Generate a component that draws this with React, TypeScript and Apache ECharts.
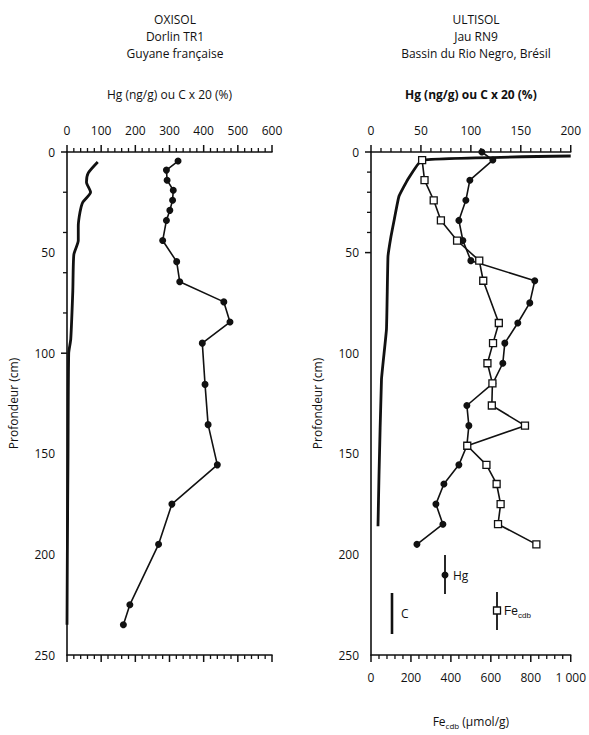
import React, { useEffect, useRef } from "react";
import * as echarts from "echarts";

// Left panel (OXISOL, Dorlin TR1)
const leftHgDepth = [4.5, 9, 14, 19, 24, 29, 34, 44, 54.5, 64.5, 74.5, 84.5, 95, 115.5, 135.5, 155.5, 175, 195, 225, 235];
const leftHg = [325, 291, 293, 311, 309, 301, 291, 280, 321, 330, 459, 477, 396, 404, 413, 440, 307, 268, 184, 165];
const leftCDepth = [5, 10.5, 15, 20, 25, 30, 37, 44, 51, 69, 93, 100, 150, 200, 235];
const leftC = [90, 62, 57, 69, 46, 38, 33, 33, 20, 17, 11, 5, 3, 1, 0];

// Right panel (ULTISOL, Jau RN9)
const rightHgDepth = [0, 4, 14, 24, 34, 44, 54, 64, 75, 85, 95, 105, 115, 126, 136, 146, 155.5, 165, 175, 185, 195];
const rightHg = [111, 122, 99, 95, 88, 92, 100, 164, 159, 147, 134, 132, 122, 96, 98, 96, 88, 73, 65, 72, 46];
const rightCDepth = [2, 4, 13.5, 22, 33, 42, 52, 88, 113, 161, 186];
const rightC = [200, 51, 37, 28, 23.5, 20, 17, 15.5, 10.5, 8, 7];
const rightFeDepth = [4, 14, 24, 34, 44, 54, 64, 85, 95, 105, 115, 126, 136, 146, 155.5, 165, 175, 185, 195];
const rightFe = [256, 268, 314, 350, 431, 542, 562, 640, 611, 583, 608, 605, 771, 482, 578, 629, 649, 636, 828];

const topTicksLeft = [0, 100, 200, 300, 400, 500, 600];
const topTicksRight = [0, 50, 100, 150, 200];
const bottomTicksRight = [0, 200, 400, 600, 800, 1000];
const depthTicks = [0, 50, 100, 150, 200, 250];
const MINOR_SPLIT = 5;

const pairs = (xs: number[], ys: number[]) => xs.map((x, i) => [x, ys[i]]);

const FONT = "Open Sans";
const INK = "#111";

// major + minor tick values from a list of major ticks
function tickValues(majors: number[]): { v: number; major: boolean }[] {
  const out: { v: number; major: boolean }[] = [];
  const step = (majors[1] - majors[0]) / MINOR_SPLIT;
  for (let i = 0; i < majors.length; i++) {
    out.push({ v: majors[i], major: true });
    if (i < majors.length - 1) {
      for (let k = 1; k < MINOR_SPLIT; k++) out.push({ v: majors[i] + k * step, major: false });
    }
  }
  return out;
}

function xAxisBase(gridIndex: number, position: string, ticks: number[], showLabel: boolean): any {
  return {
    type: "value",
    gridIndex,
    position,
    min: ticks[0],
    max: ticks[ticks.length - 1],
    interval: ticks[1] - ticks[0],
    axisLine: { show: true, onZero: false, lineStyle: { color: INK, width: 1.6 } },
    axisTick: { show: false },
    minorTick: { show: false },
    splitLine: { show: false },
    axisLabel: {
      show: showLabel,
      margin: 16,
      color: INK,
      fontFamily: FONT,
      fontSize: 12,
      formatter: (v: number) => (v === 1000 ? "1 000" : String(v)),
    },
  };
}

function yAxisBase(gridIndex: number): any {
  return {
    type: "value",
    gridIndex,
    inverse: true,
    min: depthTicks[0],
    max: depthTicks[depthTicks.length - 1],
    interval: depthTicks[1] - depthTicks[0],
    name: "Profondeur (cm)",
    nameLocation: "middle",
    nameRotate: 90,
    nameGap: 48,
    nameTextStyle: { color: INK, fontFamily: FONT, fontSize: 12 },
    axisLine: { show: true, onZero: false, lineStyle: { color: INK, width: 1.6 } },
    axisTick: { show: false },
    minorTick: { show: false },
    splitLine: { show: false },
    axisLabel: { margin: 12, color: INK, fontFamily: FONT, fontSize: 12 },
  };
}

// custom series drawing tick marks through the axes' own scales
function tickSeries(xAxisIndex: number, yAxisIndex: number, sides: { side: string; majors: number[] }[]): any {
  return {
    type: "custom",
    xAxisIndex,
    yAxisIndex,
    silent: true,
    clip: false,
    data: [[0, 0]],
    z: 5,
    renderItem: (_p: any, api: any) => {
      const children: any[] = [];
      const yMin = depthTicks[0];
      const yMax = depthTicks[depthTicks.length - 1];
      sides.forEach((s) => {
        const xMin = s.majors[0];
        tickValues(s.majors).forEach(({ v, major }) => {
          const len = major ? 7 : 4;
          const w = major ? 1.5 : 1.3;
          let shape: any;
          if (s.side === "top") {
            const p = api.coord([v, yMin]);
            shape = { x1: p[0], y1: p[1], x2: p[0], y2: p[1] - len };
          } else if (s.side === "bottom") {
            const p = api.coord([v, yMax]);
            shape = { x1: p[0], y1: p[1], x2: p[0], y2: p[1] + len };
          } else {
            const p = api.coord([xMin, v]);
            shape = { x1: p[0], y1: p[1], x2: p[0] - (major ? 6 : 4), y2: p[1] };
          }
          children.push({ type: "line", shape, style: { stroke: INK, lineWidth: w } });
        });
      });
      return { type: "group", children };
    },
  };
}

function buildOption(): any {
  const hgTitle = "Hg (ng/g) ou C x 20 (%)";
  const xa0 = xAxisBase(0, "top", topTicksLeft, true);
  xa0.name = hgTitle;
  xa0.nameLocation = "middle";
  xa0.nameGap = 52;
  xa0.nameTextStyle = { color: INK, fontFamily: FONT, fontSize: 12 };
  const xa1 = xAxisBase(0, "bottom", topTicksLeft, false);
  const xa2 = xAxisBase(1, "top", topTicksRight, true);
  xa2.name = hgTitle;
  xa2.nameLocation = "middle";
  xa2.nameGap = 52;
  xa2.nameTextStyle = { color: INK, fontFamily: FONT, fontSize: 12, fontWeight: "bold" };
  const xa3 = xAxisBase(1, "bottom", bottomTicksRight, true);
  xa3.name = "{a|Fe}{b|cdb}{a| (µmol/g)}";
  xa3.nameLocation = "middle";
  xa3.nameGap = 58;
  xa3.nameTextStyle = {
    color: INK,
    fontFamily: FONT,
    fontSize: 12,
    rich: {
      a: { color: INK, fontSize: 12 },
      b: { color: INK, fontSize: 8, verticalAlign: "bottom", padding: [8, 0, 0, 0] },
    },
  };
  const lineHg = { color: INK, width: 1.6 };
  return {
    animation: false,
    backgroundColor: "#fff",
    title: [
      {
        text: "OXISOL\nDorlin TR1\nGuyane française",
        left: 170,
        top: 6,
        textAlign: "center",
        textStyle: { color: INK, fontFamily: FONT, fontSize: 12, fontWeight: "normal", lineHeight: 17 },
      },
      {
        text: "ULTISOL\nJau RN9\nBassin du Rio Negro, Brésil",
        left: 471,
        top: 6,
        textAlign: "center",
        textStyle: { color: INK, fontFamily: FONT, fontSize: 12, fontWeight: "normal", lineHeight: 17 },
      },
    ],
    grid: [
      { left: 67, top: 152, width: 205, height: 503 },
      { left: 371, top: 152, width: 204, height: 503 },
    ],
    xAxis: [xa0, xa1, xa2, xa3],
    yAxis: [yAxisBase(0), yAxisBase(1)],
    series: [
      tickSeries(0, 0, [
        { side: "top", majors: topTicksLeft },
        { side: "bottom", majors: topTicksLeft },
        { side: "left", majors: depthTicks.map(() => topTicksLeft[0]).length ? [topTicksLeft[0], topTicksLeft[1]] : [0, 100] },
      ]),
      tickSeries(2, 1, [
        { side: "top", majors: topTicksRight },
        { side: "left", majors: [topTicksRight[0], topTicksRight[1]] },
      ]),
      tickSeries(3, 1, [{ side: "bottom", majors: bottomTicksRight }]),
      {
        type: "line",
        name: "C gauche",
        xAxisIndex: 0,
        yAxisIndex: 0,
        data: pairs(leftC, leftCDepth),
        symbol: "none",
        smooth: 0.2,
        lineStyle: { color: INK, width: 2.8 },
      },
      {
        type: "line",
        name: "Hg gauche",
        xAxisIndex: 0,
        yAxisIndex: 0,
        data: pairs(leftHg, leftHgDepth),
        symbol: "circle",
        symbolSize: 7,
        clip: false,
        itemStyle: { color: INK },
        lineStyle: lineHg,
      },
      {
        type: "line",
        name: "C droite",
        xAxisIndex: 2,
        yAxisIndex: 1,
        data: pairs(rightC, rightCDepth),
        symbol: "none",
        smooth: 0.1,
        lineStyle: { color: INK, width: 2.8 },
      },
      {
        type: "line",
        name: "Hg droite",
        xAxisIndex: 2,
        yAxisIndex: 1,
        data: pairs(rightHg, rightHgDepth),
        symbol: "circle",
        symbolSize: 7,
        clip: false,
        itemStyle: { color: INK },
        lineStyle: lineHg,
      },
      {
        type: "line",
        name: "Fe droite",
        xAxisIndex: 3,
        yAxisIndex: 1,
        data: pairs(rightFe, rightFeDepth),
        symbol: "rect",
        symbolSize: 7,
        clip: false,
        itemStyle: { color: "#fff", borderColor: INK, borderWidth: 1.3 },
        lineStyle: lineHg,
      },
      {
        // legend glyphs
        type: "custom",
        name: "légende",
        coordinateSystem: "none",
        silent: true,
        data: [0],
        renderItem: () => ({
          type: "group",
          children: [
            { type: "line", shape: { x1: 445, y1: 555, x2: 445, y2: 594 }, style: { stroke: INK, lineWidth: 1.8 } },
            { type: "circle", shape: { cx: 445, cy: 575, r: 3.5 }, style: { fill: INK } },
            { type: "line", shape: { x1: 392, y1: 593, x2: 392, y2: 634 }, style: { stroke: INK, lineWidth: 2.6 } },
            { type: "line", shape: { x1: 497, y1: 592, x2: 497, y2: 630 }, style: { stroke: INK, lineWidth: 1.8 } },
            { type: "rect", shape: { x: 493.5, y: 607, width: 7, height: 7 }, style: { fill: "#fff", stroke: INK, lineWidth: 1.3 } },
          ],
        }),
      },
    ],
    graphic: [
      { type: "text", x: 453, y: 575, style: { text: "Hg", fill: INK, fontFamily: FONT, fontSize: 12, verticalAlign: "middle" } },
      { type: "text", x: 401, y: 613, style: { text: "C", fill: INK, fontFamily: FONT, fontSize: 12, verticalAlign: "middle" } },
      {
        type: "text",
        x: 504,
        y: 611,
        style: {
          text: "{a|Fe}{b|cdb}",
          fill: INK,
          fontFamily: FONT,
          fontSize: 12,
          verticalAlign: "middle",
          rich: { a: { fontSize: 12 }, b: { fontSize: 8, padding: [8, 0, 0, 0] } },
        },
      },
    ],
  };
}

export default function App() {
  const ref = useRef<HTMLDivElement>(null);
  useEffect(() => {
    document.body.style.margin = "0";
    if (!ref.current) return;
    const chart = echarts.init(ref.current, null, { renderer: "svg" });
    chart.setOption(buildOption());
    return () => chart.dispose();
  }, []);
  return <div ref={ref} style={{ width: 589, height: 735 }} />;
}
